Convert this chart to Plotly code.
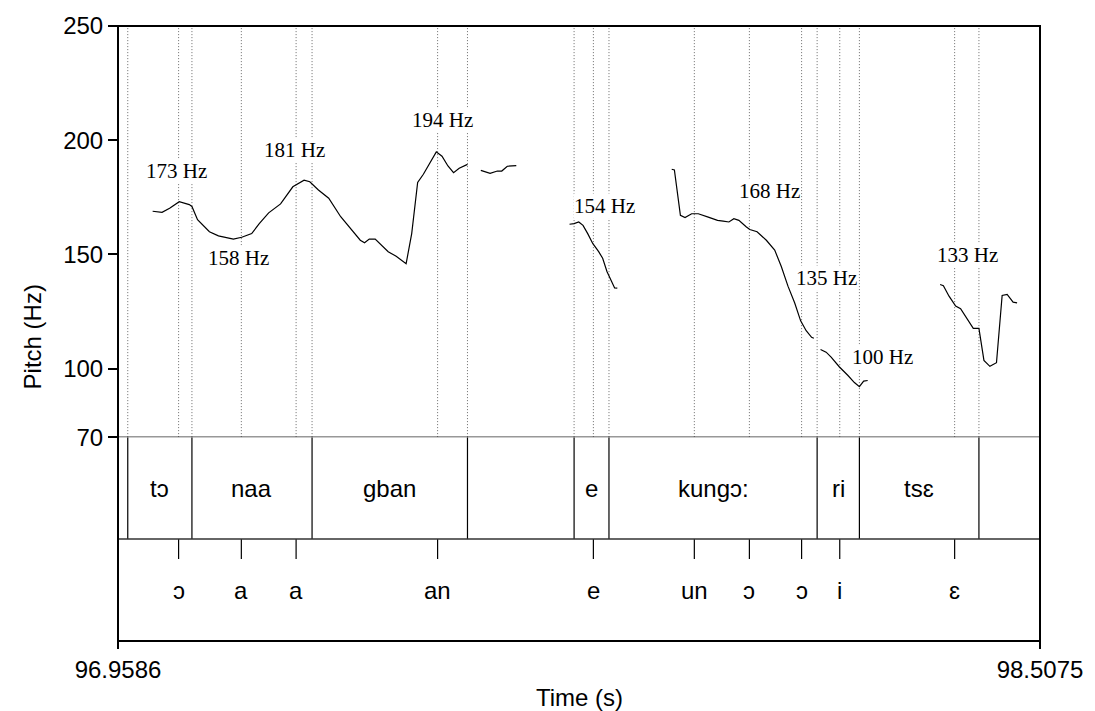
import plotly.graph_objects as go

# ---------------- data ----------------
t_start, t_end = 96.9586, 98.5075
pitch_ticks = [70, 100, 150, 200, 250]

seg1_t = [97.0168, 97.0326, 97.0453, 97.0615, 97.0783, 97.0828, 97.0922, 97.1122, 97.1273,
          97.1402, 97.1524, 97.1665, 97.1832, 97.1959, 97.2117, 97.2317, 97.2523, 97.2712,
          97.2808, 97.2953, 97.3126, 97.3327, 97.3499, 97.3656, 97.3728, 97.3807, 97.3907,
          97.4125, 97.4259, 97.4426, 97.4520, 97.4620, 97.4716, 97.4933, 97.5029, 97.5129,
          97.5223, 97.5318, 97.5457]
seg1_hz = [168.9, 168.4, 170.2, 173.1, 171.8, 171.0, 165.2, 159.9, 158.1,
           157.5, 156.7, 157.5, 159.1, 163.5, 168.2, 172.1, 179.6, 182.5,
           181.8, 178.2, 174.6, 166.5, 161.3, 156.2, 155.1, 156.7, 156.7,
           151.2, 149.2, 145.9, 159.1, 181.5, 185.1, 194.9, 193.0, 188.7,
           185.8, 187.7, 189.4]

seg2_t = [97.5681, 97.5837, 97.5959, 97.6033, 97.6126, 97.6277]
seg2_hz = [186.8, 185.5, 186.5, 186.5, 188.6, 188.9]

seg3_t = [97.7171, 97.7248, 97.7326, 97.7398, 97.7477, 97.7561, 97.7661, 97.7728,
          97.7800, 97.7884, 97.7929, 97.7974]
seg3_hz = [163.2, 163.5, 164.2, 162.7, 159.1, 154.8, 151.2, 148.3, 142.5, 137.8, 135.3, 135.2]

seg4_t = [97.8888, 97.8933, 97.9034, 97.9112, 97.9223, 97.9335, 97.9502, 97.9658,
          97.9753, 97.9849, 97.9932, 98.0016, 98.0143, 98.0200, 98.0322, 98.0478,
          98.0618, 98.0729, 98.0841, 98.0953, 98.1054, 98.1147, 98.1238, 98.1276]
seg4_hz = [187.3, 187.0, 167.1, 166.1, 167.8, 167.8, 166.3, 164.9,
           164.6, 164.2, 165.6, 164.9, 162.0, 160.9, 159.9, 156.2,
           151.9, 144.7, 136.1, 128.8, 120.9, 116.6, 113.7, 113.3]

seg5_t = [98.1388, 98.1482, 98.1566, 98.1706, 98.1845, 98.1957, 98.2041, 98.2113, 98.2180]
seg5_hz = [108.4, 107.2, 105.0, 100.7, 97.1, 93.9, 92.1, 94.5, 94.8]

seg6_t = [98.3397, 98.3452, 98.3547, 98.3658, 98.3741, 98.3853, 98.3954, 98.4049,
          98.4133, 98.4233, 98.4344, 98.4439, 98.4523, 98.4623, 98.4690]
seg6_hz = [136.8, 136.3, 131.7, 127.4, 126.2, 121.6, 117.6, 117.6,
           103.6, 101.0, 102.6, 132.0, 132.5, 129.1, 128.8]

segments = [(seg1_t, seg1_hz), (seg2_t, seg2_hz), (seg3_t, seg3_hz),
            (seg4_t, seg4_hz), (seg5_t, seg5_hz), (seg6_t, seg6_hz)]

pitch_labels = ["173 Hz", "158 Hz", "181 Hz", "194 Hz", "154 Hz", "168 Hz", "135 Hz", "100 Hz", "133 Hz"]
pitch_label_t = [97.0565, 97.1603, 97.2557, 97.5034, 97.7762, 98.0523, 98.1494, 98.2431, 98.3853]
pitch_label_hz = [186.7, 148.3, 195.8, 208.9, 171.4, 177.9, 139.6, 105.2, 149.7]

word_bounds = [96.9750, 97.0828, 97.2846, 97.5457, 97.7248, 97.7834, 98.1331, 98.2041, 98.4049]
word_labels = ["tɔ", "naa", "gban", "", "e", "kungɔ:", "ri", "tsɛ"]

point_times = [97.0604, 97.1658, 97.2578, 97.4955, 97.7572, 97.9268, 98.0193, 98.1070, 98.1711, 98.3641]
point_labels = ["ɔ", "a", "a", "an", "e", "un", "ɔ", "ɔ", "i", "ɛ"]

# ---------------- figure ----------------
SANS = "Liberation Sans, Arial, sans-serif"
SERIF = "Liberation Serif, Times New Roman, serif"
split = 0.3315  # tier/pitch boundary in paper coords

fig = go.Figure()
xs, ys = [], []
for t, h in segments:
    xs += list(t) + [None]
    ys += list(h) + [None]
fig.add_trace(go.Scatter(x=xs, y=ys, mode="lines", line=dict(color="black", width=1.2),
                         hoverinfo="skip", showlegend=False, connectgaps=False))

shapes = []
dot = dict(color="#6a6a6a", width=1, dash="1px,2px")
for b in word_bounds:
    shapes.append(dict(type="line", xref="x", yref="y", x0=b, x1=b, y0=70, y1=250, line=dot, layer="below"))
    shapes.append(dict(type="line", xref="x", yref="y2", x0=b, x1=b, y0=1, y1=2,
                       line=dict(color="black", width=1.2)))
for p in point_times:
    shapes.append(dict(type="line", xref="x", yref="y", x0=p, x1=p, y0=70, y1=250, line=dot, layer="below"))
    shapes.append(dict(type="line", xref="x", yref="y2", x0=p, x1=p, y0=0.805, y1=1,
                       line=dict(color="black", width=1.2)))
# tier separators
shapes.append(dict(type="line", xref="paper", yref="y", x0=0, x1=1, y0=70, y1=70,
                   line=dict(color="#333333", width=1.5)))
shapes.append(dict(type="line", xref="paper", yref="y2", x0=0, x1=1, y0=1, y1=1,
                   line=dict(color="#333333", width=1.5)))
# frame
shapes.append(dict(type="rect", xref="paper", yref="paper", x0=0, x1=1, y0=0, y1=1,
                   line=dict(color="black", width=2)))

annotations = []
for lab, t, h in zip(pitch_labels, pitch_label_t, pitch_label_hz):
    annotations.append(dict(x=t, y=h, xref="x", yref="y", text=lab, showarrow=False,
                            font=dict(family=SERIF, size=21, color="black"),
                            bgcolor="white", borderpad=0))
for i, lab in enumerate(word_labels):
    if lab:
        annotations.append(dict(x=(word_bounds[i] + word_bounds[i + 1]) / 2, y=1.5, xref="x", yref="y2",
                                text=lab, showarrow=False, font=dict(family=SANS, size=24, color="black")))
for p, lab in zip(point_times, point_labels):
    annotations.append(dict(x=p, y=0.5, xref="x", yref="y2", text=lab, showarrow=False,
                            font=dict(family=SANS, size=24, color="black")))
annotations.append(dict(x=-0.093, y=0.494, xref="paper", yref="paper", text="Pitch (Hz)",
                        textangle=-90, showarrow=False, xanchor="center", yanchor="middle",
                        font=dict(family=SANS, size=24, color="black")))
annotations.append(dict(x=0.5, y=-0.092, xref="paper", yref="paper", text="Time (s)",
                        showarrow=False, xanchor="center", yanchor="middle",
                        font=dict(family=SANS, size=24, color="black")))

fig.update_layout(
    width=1095, height=711,
    margin=dict(l=118, r=52, t=22, b=70),
    paper_bgcolor="white", plot_bgcolor="white",
    showlegend=False,
    shapes=shapes, annotations=annotations,
    xaxis=dict(range=[t_start, t_end], tickvals=[t_start, t_end],
               ticktext=[f"{t_start:.4f}", f"{t_end:.4f}"], ticks="outside", ticklen=7,
               tickwidth=1.5, tickcolor="black", showgrid=False, zeroline=False, showline=False,
               anchor="y2", tickfont=dict(family=SANS, size=24, color="black")),
    yaxis=dict(domain=[split, 1], range=[70, 250], tickvals=pitch_ticks, ticks="outside",
               ticklen=9, tickwidth=1.5, tickcolor="black", showgrid=False, zeroline=False,
               showline=False, tickfont=dict(family=SANS, size=24, color="black")),
    yaxis2=dict(domain=[0, split], range=[0, 2], showticklabels=False, ticks="",
                showgrid=False, zeroline=False, showline=False),
)

fig.write_html("out.html", config={"displayModeBar": False},
               post_script="document.body.style.margin='0';document.body.style.overflow='hidden';")
